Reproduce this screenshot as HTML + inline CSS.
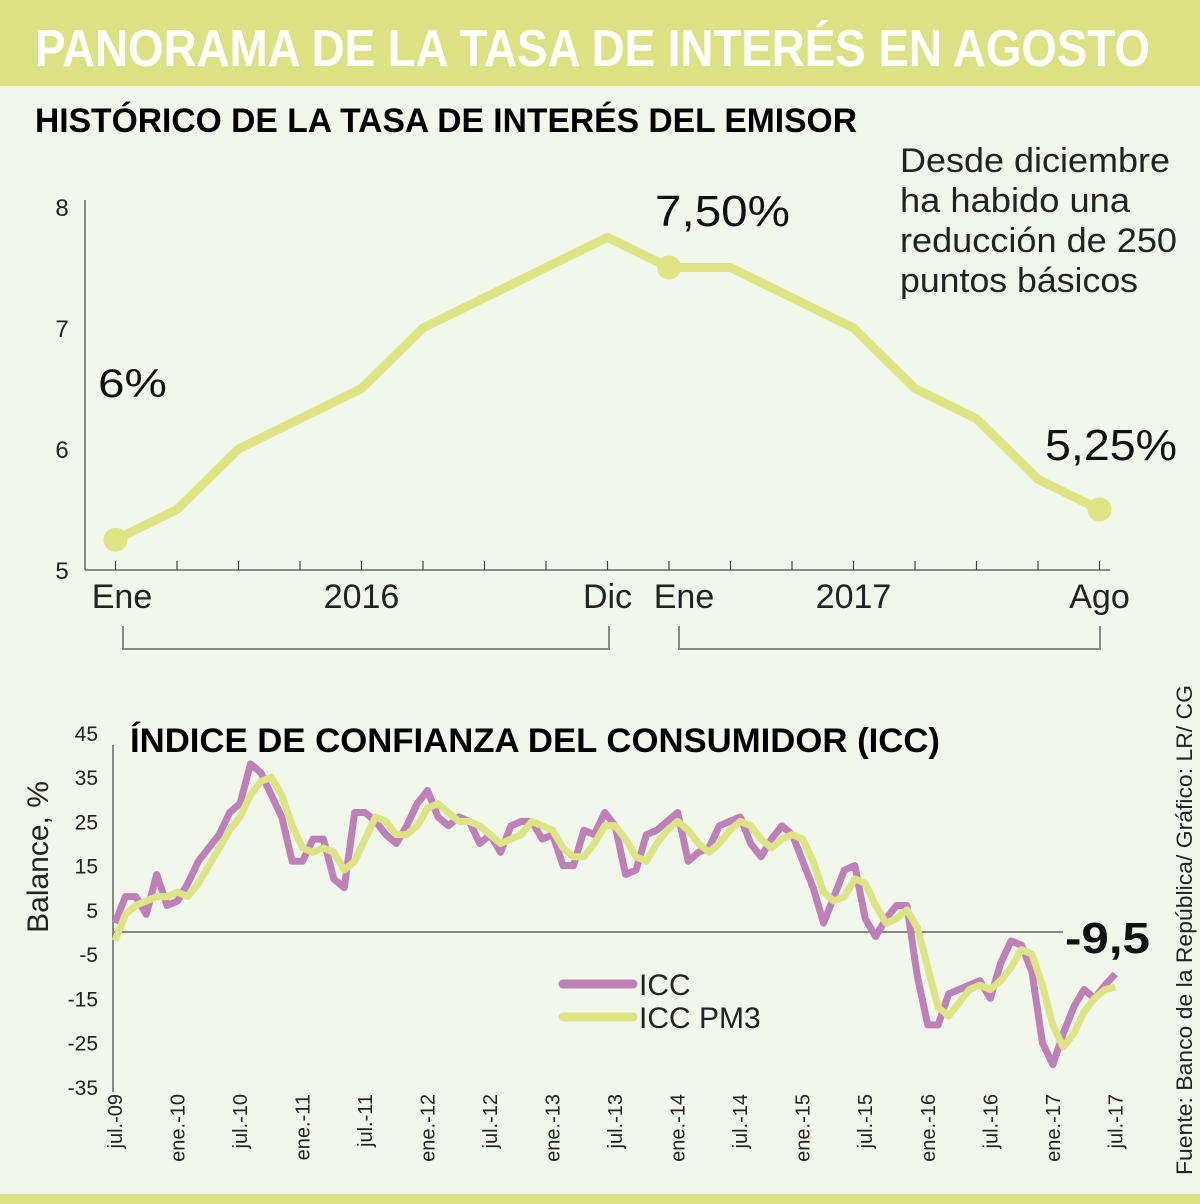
<!DOCTYPE html>
<html><head><meta charset="utf-8">
<style>
html,body{margin:0;padding:0;background:#f2f7ec;}
svg{display:block;font-family:"Liberation Sans",sans-serif;}
</style></head>
<body>
<svg id="root" width="1200" height="1204" viewBox="0 0 1200 1204" xmlns="http://www.w3.org/2000/svg">
<rect x="0" y="0" width="1200" height="1204" fill="#f2f7ec"/>
<rect x="0" y="0" width="1200" height="86" fill="#dce283"/>
<text x="35" y="66" font-size="52" font-weight="bold" fill="#ffffff" textLength="1115" lengthAdjust="spacingAndGlyphs">PANORAMA DE LA TASA DE INTERÉS EN AGOSTO</text>
<rect x="0" y="1194" width="1200" height="10" fill="#dce283"/>

<text x="35" y="132" font-size="34" font-weight="bold" fill="#000" textLength="822" lengthAdjust="spacingAndGlyphs">HISTÓRICO DE LA TASA DE INTERÉS DEL EMISOR</text>
<g font-size="34" fill="#222">
<text x="900" y="172" textLength="270" lengthAdjust="spacingAndGlyphs">Desde diciembre</text>
<text x="900" y="212" textLength="230" lengthAdjust="spacingAndGlyphs">ha habido una</text>
<text x="900" y="252" textLength="277" lengthAdjust="spacingAndGlyphs">reducción de 250</text>
<text x="900" y="292" textLength="238" lengthAdjust="spacingAndGlyphs">puntos básicos</text>
</g>
<g id="topChart"></g>

<text x="130" y="752" font-size="34" font-weight="bold" fill="#000" textLength="810" lengthAdjust="spacingAndGlyphs">ÍNDICE DE CONFIANZA DEL CONSUMIDOR (ICC)</text>
<text transform="translate(48,857) rotate(-90)" text-anchor="middle" font-size="30" fill="#222">Balance, %</text>
<text transform="translate(1192,1175) rotate(-90)" font-size="22" fill="#222" textLength="490" lengthAdjust="spacingAndGlyphs">Fuente: Banco de la República/ Gráfico: LR/ CG</text>
<g id="bottomChart"></g>
</svg>
<script>
// ---- Top chart data ----
const rateValues = [5.25,5.5,6.0,6.25,6.5,7.0,7.25,7.5,7.75,7.5,7.5,7.25,7.0,6.5,6.25,5.75,5.5];
const rateYTicks = [8,7,6,5];
const rateXLabels = ["Ene","","","","2016","","","","Dic","Ene","","","2017","","","","Ago"];
// ---- Bottom chart data ----
const iccValues = [2,8,8,4,13,6,7,11,16,19,22,27,29,38,36,31,26,16,16,21,21,12,10,27,27,25,22,20,24,29,32,26,24,26,25,20,22,18,24,25,25,21,22,15,15,23,22,27,24,13,14,22,23,25,27,16,18,19,24,25,26,20,17,21,24,22,16,10,2,8,14,15,3,-1,3,6,6,-10,-21,-21,-14,-13,-12,-11,-15,-7,-2,-3,-9,-25,-30,-23,-17,-13,-15,-12,-9.5];
const pm3Values = [-2,4,6,7,8,8,9,8,11,15,19,23,26,31,34,35,31,24,19,18,19,18,14,16,21,26,25,22,22,24,28,29,27,25,25,24,22,20,21,22,25,24,23,19,17,17,20,24,24,21,17,16,20,23,25,23,20,18,20,23,25,24,21,19,21,22,21,16,9,7,8,12,11,6,2,3,5,1,-8,-17,-19,-16,-13,-12,-13,-11,-8,-4,-5,-12,-21,-26,-23,-18,-15,-13,-12.5];
const iccYTicks = [45,35,25,15,5,-5,-15,-25,-35];
const iccXLabels = ["jul.-09","ene.-10","jul.-10","ene.-11","jul.-11","ene.-12","jul.-12","ene.-13","jul.-13","ene.-14","jul.-14","ene.-15","jul.-15","ene.-16","jul.-16","ene.-17","jul.-17"];

const NS="http://www.w3.org/2000/svg";
function mk(tag,attrs,parent){const e=document.createElementNS(NS,tag);for(const k in attrs)e.setAttribute(k,attrs[k]);parent.appendChild(e);return e;}

// Top chart
const topChart=document.getElementById('topChart');
const tx=i=>115.5+i*61.5;
const ty=v=>570-(v-5)*121;
mk('line',{x1:85,y1:200,x2:85,y2:570,stroke:'#666','stroke-width':1.5},topChart);
const tAxis=mk('line',{x1:85,y1:570,x2:1110,y2:570,stroke:'#666','stroke-width':1.5},topChart);


rateYTicks.forEach(v=>{const t=mk('text',{x:62,y:ty(v)+9,'text-anchor':'middle','font-size':24,fill:'#222'},topChart);t.textContent=v;

});
rateValues.forEach((v,i)=>{mk('line',{x1:tx(i),y1:561,x2:tx(i),y2:570,stroke:'#444','stroke-width':1.2},topChart);});
const labelX={"Ene":[122,684]};
let eneCount=0;
rateXLabels.forEach((l,i)=>{if(!l)return;let x=tx(i);if(l==="Ene"){x=labelX.Ene[eneCount++];}
const t=mk('text',{x:x,y:608,'text-anchor':'middle','font-size':34,fill:'#222'},topChart);t.textContent=l;

});
const br1=mk('path',{d:'M123 626 V649 H609 V626',fill:'none',stroke:'#888','stroke-width':2},topChart);


const br2=mk('path',{d:'M679 626 V649 H1100 V626',fill:'none',stroke:'#888','stroke-width':2},topChart);


const rl=mk('polyline',{points:rateValues.map((v,i)=>tx(i)+','+ty(v)).join(' '),fill:'none',stroke:'#dde483','stroke-width':9,'stroke-linejoin':'round'},topChart);


[0,9,16].forEach(i=>{const c=mk('circle',{cx:tx(i),cy:ty(rateValues[i]),r:12,fill:'#dde483'},topChart);

});
[["6%",98,397,40,69],["7,50%",655,226,44,135],["5,25%",1045,460,44,132]].forEach(a=>{
const t=mk('text',{x:a[1],y:a[2],'font-size':a[3],fill:'#111',textLength:a[4],lengthAdjust:'spacingAndGlyphs'},topChart);t.textContent=a[0];

});

// Bottom chart
const bottomChart=document.getElementById('bottomChart');
const bx=i=>115+i*10.42;
const by=v=>932-v*4.425;
const ya=mk('line',{x1:113,y1:745,x2:113,y2:1092,stroke:'#888','stroke-width':2},bottomChart);


const zl=mk('line',{x1:113,y1:by(0),x2:1063,y2:by(0),stroke:'#888','stroke-width':2},bottomChart);


iccYTicks.forEach(v=>{const t=mk('text',{x:98,y:by(v)+8,'text-anchor':'end','font-size':21,fill:'#222'},bottomChart);t.textContent=v;

});
iccXLabels.forEach((l,k)=>{const x=bx(k*6)+7;const t=mk('text',{transform:`translate(${x},1094) rotate(-90)`,'text-anchor':'end','font-size':20,fill:'#222'},bottomChart);t.textContent=l;

});
const l1=mk('polyline',{points:iccValues.map((v,i)=>bx(i)+','+by(v)).join(' '),fill:'none',stroke:'#bf80b9','stroke-width':7,'stroke-linejoin':'round'},bottomChart);


const l2=mk('polyline',{points:pm3Values.map((v,i)=>bx(i)+','+by(v)).join(' '),fill:'none',stroke:'#dde483','stroke-width':7,'stroke-linejoin':'round'},bottomChart);


const last=mk('text',{x:1065,y:953,'font-size':44,'font-weight':'bold',fill:'#111',textLength:85,lengthAdjust:'spacingAndGlyphs'},bottomChart);last.textContent='-9,5';


[["ICC","#bf80b9",984],["ICC PM3","#dde483",1017]].forEach(a=>{
const g=mk('g',{},bottomChart);


mk('line',{x1:563,y1:a[2],x2:633,y2:a[2],stroke:a[1],'stroke-width':9,'stroke-linecap':'round'},g);
const t=mk('text',{x:639,y:a[2]+11,'font-size':30,fill:'#222'},g);t.textContent=a[0];});
</script>
</body></html>
